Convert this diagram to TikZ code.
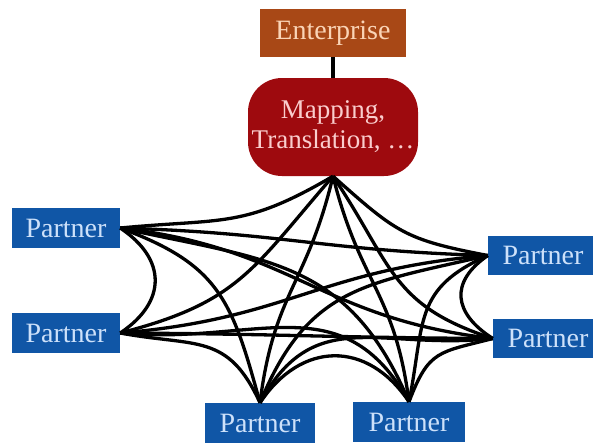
\documentclass[tikz,border=0pt]{standalone}
\usepackage{fontspec}
\setmainfont{Liberation Serif}
\usetikzlibrary{calc}
\definecolor{entbrown}{RGB}{168,72,22}
\definecolor{enttext}{RGB}{250,212,182}
\definecolor{mapred}{RGB}{158,10,14}
\definecolor{maptext}{RGB}{250,205,205}
\definecolor{partblue}{RGB}{16,86,166}
\definecolor{parttext}{RGB}{205,225,250}
\def\kk{0.42}
\def\cc{12}
\def\aM{0.25}
\def\aP{0.6}
% #1 start anchor, #2 end anchor, #3,#4 start normal, #5 start weight, #6,#7 end normal, #8 end weight
\newcommand\lnk[8]{%
  \draw[edge] let \p1=(#1), \p2=(#2),
    \n1={veclen(\x2-\x1,\y2-\y1)},
    \n2={(1-#5)*(\x2-\x1)/\n1+#5*(#3)},
    \n3={(1-#5)*(\y2-\y1)/\n1+#5*(#4)},
    \n4={veclen(\n2,\n3)},
    \n5={(1-#8)*(\x1-\x2)/\n1+#8*(#6)},
    \n6={(1-#8)*(\y1-\y2)/\n1+#8*(#7)},
    \n7={veclen(\n5,\n6)},
    \n8={\kk*\n1+\cc}
  in (\p1) .. controls ({\x1+\n8*\n2/\n4},{\y1+\n8*\n3/\n4}) and ({\x2+\n8*\n5/\n7},{\y2+\n8*\n6/\n7}) .. (\p2);}
\tikzset{
  edge/.style={draw=black, line width=3.3pt},
  partbox/.style={fill=partblue, text=parttext, inner sep=0pt, minimum width=110pt, minimum height=40pt,
    font=\fontsize{28}{30}\selectfont},
  entbox/.style={fill=entbrown, text=enttext, inner sep=0pt, minimum width=146pt, minimum height=48pt,
    font=\fontsize{28}{30}\selectfont},
  mapbox/.style={fill=mapred, text=maptext, inner sep=0pt, minimum width=170pt, minimum height=98pt,
    rounded corners=34pt, align=center, font=\fontsize{27}{30}\selectfont},
}
\begin{document}
\begin{tikzpicture}[x=1pt,y=-1pt]
\useasboundingbox (0,0) rectangle (593,442);
\node[entbox] (E) at (333,33) {Enterprise};
\node[mapbox] (M) at (333,127) {Mapping,\\Translation,~…};
\node[partbox, minimum width=108pt] (P1) at (66,228) {Partner};
\node[partbox, minimum width=108pt] (P2) at (66,333) {Partner};
\node[partbox] (P3) at (260,423) {Partner};
\node[partbox, minimum width=112pt] (P4) at (409,422) {Partner};
\node[partbox, minimum height=39pt] (P5) at (543,255.5) {Partner};
\node[partbox, minimum height=39pt] (P6) at (548,338.5) {Partner};
\draw[edge] (E.south) -- (M.north);
% mapping to partners
\lnk{M.south}{P1.east}{0}{-1}{\aM}{1}{0}{\aP}
\lnk{M.south}{P2.east}{0}{-1}{\aM}{1}{0}{\aP}
\lnk{M.south}{P3.north}{0}{-1}{\aM}{0}{1}{\aP}
\lnk{M.south}{P4.north}{0}{-1}{\aM}{0}{1}{\aP}
\lnk{M.south}{P5.west}{0}{-1}{\aM}{-1}{0}{\aP}
\lnk{M.south}{P6.west}{0}{-1}{\aM}{-1}{0}{\aP}
% partner 1
\lnk{P1.east}{P2.east}{1}{0}{\aP}{1}{0}{\aP}
\lnk{P1.east}{P3.north}{1}{0}{\aP}{0}{1}{\aP}
\lnk{P1.east}{P4.north}{1}{0}{\aP}{0}{1}{\aP}
\lnk{P1.east}{P5.west}{1}{0}{\aP}{-1}{0}{\aP}
\lnk{P1.east}{P6.west}{1}{0}{\aP}{-1}{0}{\aP}
% partner 2
\lnk{P2.east}{P3.north}{1}{0}{\aP}{0}{1}{\aP}
\lnk{P2.east}{P4.north}{1}{0}{\aP}{0}{1}{\aP}
\lnk{P2.east}{P5.west}{1}{0}{\aP}{-1}{0}{\aP}
\lnk{P2.east}{P6.west}{1}{0}{\aP}{-1}{0}{\aP}
% partner 3
\lnk{P3.north}{P4.north}{0}{1}{\aP}{0}{1}{\aP}
\lnk{P3.north}{P5.west}{0}{1}{\aP}{-1}{0}{\aP}
\lnk{P3.north}{P6.west}{0}{1}{\aP}{-1}{0}{\aP}
% partner 4
\lnk{P4.north}{P5.west}{0}{1}{\aP}{-1}{0}{\aP}
\lnk{P4.north}{P6.west}{0}{1}{\aP}{-1}{0}{\aP}
% partner 5
\lnk{P5.west}{P6.west}{-1}{0}{\aP}{-1}{0}{\aP}
\end{tikzpicture}
\end{document}
